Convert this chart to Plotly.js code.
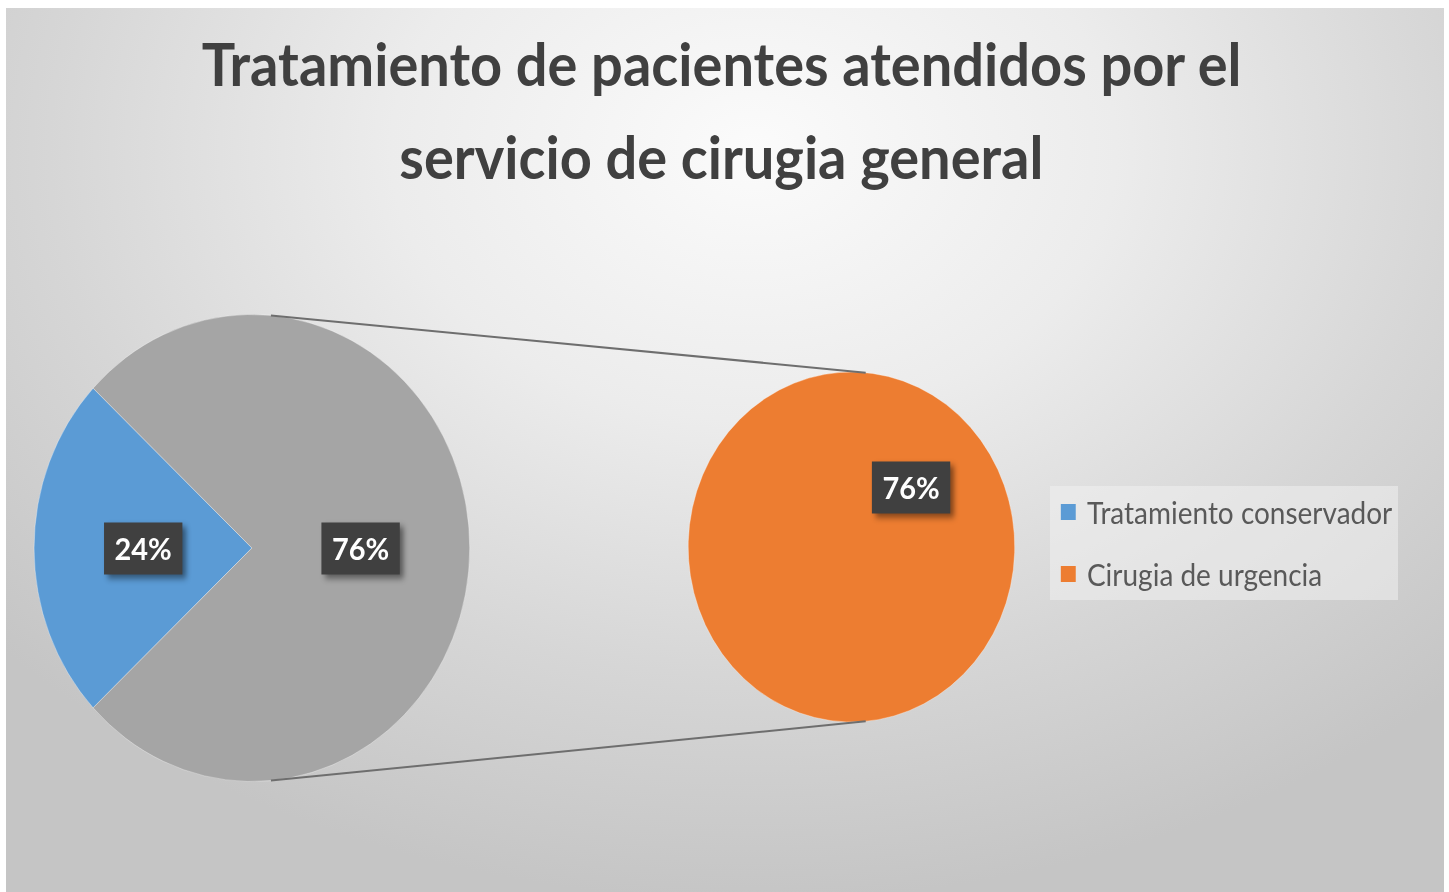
<!DOCTYPE html>
<html>
<head>
<meta charset="utf-8">
<script src="https://cdn.plot.ly/plotly-3.0.1.min.js"></script>
<style>
  html, body { margin: 0; padding: 0; background: #ffffff; overflow: hidden; }
  #bg {
    position: absolute; left: 6px; top: 8px; width: 1438px; height: 884px;
    background: radial-gradient(ellipse 70% 85% at 52% 16%, #fbfbfb 0%, #ececec 36%, #d6d6d6 70%, #c5c5c5 100%);
  }
  #plot {
    position: absolute; left: 0; top: 0; width: 1553px; height: 892px;
    transform: scaleX(0.933); transform-origin: 0 0;
  }
  #plot .annotation rect.bg { filter: drop-shadow(4px 4px 3px rgba(0,0,0,0.45)); }
</style>
</head>
<body>
<div id="bg"></div>
<div id="plot"></div>
<script>
// ---- data ----
const titleLines = ["Tratamiento de pacientes atendidos por el", "servicio de cirugia general"];
const primaryLabels = ["Tratamiento conservador", "Otros"];
const primaryValues = [24, 76];
const secondaryLabels = ["Cirugia de urgencia"];
const secondaryValues = [76];
const legendLabels = ["Tratamiento conservador", "Cirugia de urgencia"];
const primaryColors = ["#5B9BD5", "#A5A5A5"];
const secondaryColors = ["#ED7D31"];
const legendColors = ["#5B9BD5", "#ED7D31"];

// ---- geometry (unscaled px) ----
const W = 1553, H = 892;
const LP = {cx: 270, cy: 548, r: 233.5};
const RP = {cx: 912.6, cy: 547, r: 175};
function dom(p) {
  return {x: [(p.cx - p.r) / W, (p.cx + p.r) / W], y: [1 - (p.cy + p.r) / H, 1 - (p.cy - p.r) / H]};
}
function pos(p, angDeg, frac) {
  const a = angDeg * Math.PI / 180;
  return {x: (p.cx + frac * p.r * Math.sin(a)) / W, y: 1 - (p.cy - frac * p.r * Math.cos(a)) / H};
}
const total = primaryValues.reduce((a, b) => a + b, 0);
const startAngle = 270 - primaryValues[0] / total * 180;
const pct = v => Math.round(v / total * 100) + '%';

const traces = [];
traces.push({
  type: 'pie', labels: primaryLabels, values: primaryValues, sort: false,
  direction: 'clockwise', rotation: startAngle, domain: dom(LP),
  marker: {colors: primaryColors, line: {color: 'rgba(255,255,255,0.35)', width: 1}},
  textinfo: 'none', showlegend: false, hoverinfo: 'label+value+percent'
});
traces.push({
  type: 'pie', labels: secondaryLabels, values: secondaryValues, sort: false,
  direction: 'clockwise', rotation: startAngle, domain: dom(RP),
  marker: {colors: secondaryColors, line: {color: 'rgba(255,255,255,0.35)', width: 1}},
  textinfo: 'none', showlegend: false, hoverinfo: 'label+value'
});
legendLabels.forEach((n, i) => traces.push({
  type: 'scatter', mode: 'markers', x: [null], y: [null], name: n, legendgroup: 'g' + i,
  marker: {symbol: 'square', size: 16, color: legendColors[i]}, hoverinfo: 'skip'
}));

const labelFont = {family: 'Lato', size: 31, color: '#ffffff', weight: 700};
const titleFont = {family: 'Lato', size: 60, color: '#404040', weight: 700};
const annotations = [];
let cum = 0;
primaryValues.forEach(v => {
  const mid = startAngle + (cum + v / 2) / total * 360;
  const p = pos(LP, mid, 0.5);
  annotations.push({xref: 'paper', yref: 'paper', x: p.x, y: p.y, text: pct(v), showarrow: false,
    bgcolor: '#404040', font: labelFont, width: 83, height: 51, borderpad: 0, xanchor: 'center', yanchor: 'middle'});
  cum += v;
});
{
  const mid = startAngle + 180;
  const p = pos(RP, mid, 0.5);
  annotations.push({xref: 'paper', yref: 'paper', x: p.x, y: p.y, text: pct(secondaryValues[0]), showarrow: false,
    bgcolor: '#404040', font: labelFont, width: 83, height: 51, borderpad: 0, xanchor: 'center', yanchor: 'middle'});
}
annotations.push({xref: 'paper', yref: 'paper', x: 0.498, y: 1 - 156 / H, text: titleLines[1], showarrow: false,
  font: titleFont, xanchor: 'center', yanchor: 'middle'});

const a1 = pos(LP, 5, 1), b1 = pos(RP, 5, 1), a2 = pos(LP, 175, 1), b2 = pos(RP, 175, 1);
const lineStyle = {color: '#6e6e6e', width: 2};
const shapes = [
  {type: 'line', xref: 'paper', yref: 'paper', x0: a1.x, y0: a1.y, x1: b1.x, y1: b1.y, line: lineStyle},
  {type: 'line', xref: 'paper', yref: 'paper', x0: a2.x, y0: a2.y, x1: b2.x, y1: b2.y, line: lineStyle}
];

const layout = {
  width: W, height: H, autosize: false,
  margin: {l: 0, r: 0, t: 0, b: 0, pad: 0},
  paper_bgcolor: 'rgba(0,0,0,0)', plot_bgcolor: 'rgba(0,0,0,0)',
  title: {text: titleLines[0], x: 0.498, xanchor: 'center', y: 1 - 65 / H, yanchor: 'middle', yref: 'container',
    font: titleFont},
  xaxis: {visible: false}, yaxis: {visible: false},
  showlegend: true,
  legend: {x: 1125 / W, xanchor: 'left', y: 1 - 486 / H, yanchor: 'top', bgcolor: 'rgba(240,240,240,0.55)',
    borderwidth: 0, tracegroupgap: 20, traceorder: 'grouped',
    font: {family: 'Lato', size: 30, color: '#595959'}},
  annotations: annotations, shapes: shapes
};
Plotly.newPlot('plot', traces, layout, {displayModeBar: false, staticPlot: true});
</script>
</body>
</html>
